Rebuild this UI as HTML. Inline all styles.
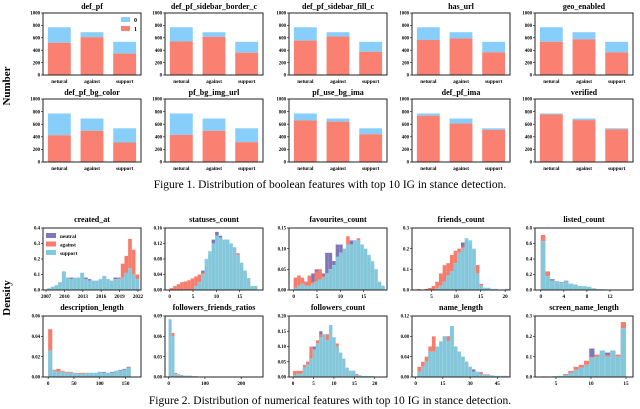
<!DOCTYPE html>
<html><head><meta charset="utf-8"><style>
html,body{margin:0;padding:0;background:#fff}
svg{display:block;font-family:"Liberation Serif",serif}
</style></head><body>
<svg id="c" width="640" height="409" viewBox="0 0 640 409" xmlns="http://www.w3.org/2000/svg">
<text x="10" y="86" font-size="11" font-weight="bold" text-anchor="middle" transform="rotate(-90 10 86)">Number</text>
<text x="10" y="298" font-size="11" font-weight="bold" text-anchor="middle" transform="rotate(-90 10 298)">Density</text>
<text x="330" y="188" font-size="11.5" text-anchor="middle">Figure 1. Distribution of boolean features with top 10 IG in stance detection.</text>
<text x="330" y="404" font-size="11.5" text-anchor="middle">Figure 2. Distribution of numerical features with top 10 IG in stance detection.</text>
</svg>
<script>
const barTitles=["def_pf","def_pf_sidebar_border_c","def_pf_sidebar_fill_c","has_url","geo_enabled","def_pf_bg_color","pf_bg_img_url","pf_use_bg_ima","def_pf_ima","verified"];
const barCategories=["netural","against","support"];
const barTotals=[770,690,535];
const barOnes=[[520,610,345],[540,615,360],[555,620,375],[565,590,365],[535,575,365],[425,495,310],[430,495,315],[660,640,440],[735,610,510],[755,665,520]];
const barYTicks=[0,200,400,600,800,1000];

const histTitles=["created_at","statuses_count","favourites_count","friends_count","listed_count","description_length","followers_friends_ratios","followers_count","name_length","screen_name_length"];
const histXDomain=[[2006.5,2022.5],[-1,20],[-1,20],[1,21],[-1,16],[-10,180],[-10,260],[-1,23],[-2,52],[2,16]];
const histXTicks=[[2007,2010,2013,2016,2019,2022],[0,5,10,15],[0,5,10,15],[5,10,15,20],[0,4,8,12],[0,50,100,150],[0,100,200],[0,5,10,15,20],[0,15,30,45],[5,10,15]];
const histYTicks=[[0,0.1,0.2,0.3,0.4],[0,0.04,0.08,0.12,0.16],[0,0.05,0.10,0.15],[0,0.1,0.2,0.3],[0,0.2,0.4,0.6,0.8],[0,0.02,0.04,0.06],[0,0.03,0.06,0.09],[0,0.05,0.10,0.15,0.20],[0,0.04,0.08,0.12],[0,0.1,0.2,0.3]];
const histYLabels=[["0.0","0.1","0.2","0.3","0.4"],["0.00","0.04","0.08","0.12","0.16"],["0.00","0.05","0.10","0.15"],["0.0","0.1","0.2","0.3"],["0.0","0.2","0.4","0.6","0.8"],["0.00","0.02","0.04","0.06"],["0.00","0.03","0.06","0.09"],["0.00","0.05","0.10","0.15","0.20"],["0.00","0.04","0.08","0.12"],["0.0","0.1","0.2","0.3"]];
const histBinStart=[2007.2,0,0,2,0,0,0,0,1,3];
const histBinWidth=[0.6,0.75,0.75,0.75,0.8,8,8,0.8,2,0.75];
const neutralVals=[
[0.01,0.02,0.03,0.05,0.11,0.08,0.08,0.08,0.08,0.11,0.08,0.07,0.06,0.06,0.07,0.09,0.07,0.06,0.08,0.08,0.08,0.14,0.10,0.08,0.02],
[0,0,0,0,0,0,0,0.01,0.03,0.05,0.06,0.09,0.13,0.15,0.14,0.13,0.13,0.12,0.10,0.09,0.07,0.05,0.03,0.01,0.01,0],
[0.01,0.01,0.02,0.02,0.03,0.04,0.05,0.05,0.04,0.09,0.09,0.07,0.11,0.11,0.10,0.11,0.12,0.12,0.10,0.10,0.08,0.06,0.04,0.02,0.01,0],
[0,0,0,0,0.005,0.01,0.03,0.06,0.08,0.11,0.14,0.19,0.23,0.24,0.22,0.19,0.12,0.02,0.01,0.005,0,0,0,0,0,0],
[0.65,0.19,0.14,0.11,0.10,0.12,0.08,0.06,0.05,0.04,0.03,0.02,0.01,0.005,0,0,0,0],
[0.027,0.007,0.006,0.005,0.005,0.004,0.004,0.004,0.004,0.004,0.004,0.004,0.005,0.005,0.004,0.005,0.006,0.007,0.008,0.010,0],
[0.085,0.06,0.005,0.003,0.003,0.002,0.002,0.002,0.001,0.001,0,0,0,0,0,0],
[0.005,0.01,0.02,0.03,0.05,0.08,0.10,0.12,0.15,0.14,0.12,0.17,0.13,0.10,0.08,0.06,0.03,0.02,0.02,0.005,0.005,0.003,0.003,0.003,0.002,0],
[0.01,0.02,0.03,0.05,0.06,0.06,0.07,0.08,0.08,0.10,0.06,0.05,0.04,0.03,0.02,0.015,0.01,0.005,0.005,0.003,0.003,0.002,0.002,0.002,0.002],
[0.002,0.002,0.003,0.005,0.01,0.02,0.035,0.045,0.07,0.14,0.10,0.13,0.12,0.13,0.10,0.24]];
const againstVals=[
[0.01,0.01,0.02,0.04,0.10,0.07,0.07,0.07,0.07,0.10,0.06,0.06,0.06,0.05,0.06,0.08,0.06,0.05,0.07,0.08,0.17,0.22,0.33,0.26,0.10],
[0.005,0.01,0.015,0.02,0.022,0.025,0.03,0.035,0.04,0.045,0.05,0.09,0.12,0.13,0.135,0.13,0.125,0.115,0.11,0.095,0.07,0.05,0.03,0.01,0.005,0],
[0.03,0.035,0.03,0.02,0.035,0.02,0.045,0.05,0.035,0.04,0.05,0.06,0.08,0.09,0.10,0.13,0.11,0.12,0.125,0.11,0.10,0.08,0.06,0.05,0.02,0.01],
[0.005,0,0.005,0.01,0.02,0.04,0.08,0.12,0.13,0.17,0.19,0.20,0.21,0.22,0.22,0.19,0.12,0.03,0.01,0.01,0,0,0,0,0,0],
[0.71,0.24,0.12,0.10,0.08,0.10,0.08,0.06,0.05,0.04,0.03,0.02,0.01,0.005,0,0,0,0],
[0.047,0.007,0.008,0.006,0.005,0.005,0.004,0.004,0.004,0.004,0.004,0.004,0.005,0.004,0.004,0.004,0.006,0.006,0.007,0.009,0],
[0.07,0.065,0.006,0.004,0.003,0.002,0.002,0.002,0.001,0.001,0,0,0,0,0,0],
[0.02,0.02,0.02,0.04,0.05,0.10,0.09,0.12,0.14,0.13,0.14,0.15,0.12,0.11,0.08,0.06,0.03,0.02,0.02,0.01,0.005,0.003,0.003,0.002,0.002,0],
[0.02,0.03,0.04,0.06,0.08,0.06,0.05,0.07,0.08,0.07,0.06,0.05,0.04,0.03,0.02,0.01,0.01,0.01,0.005,0.005,0.003,0.002,0.002,0.002,0.002],
[0.003,0.002,0.003,0.005,0.015,0.03,0.05,0.06,0.08,0.10,0.11,0.12,0.11,0.12,0.11,0.27]];
const supportVals=[
[0.01,0.02,0.03,0.05,0.12,0.08,0.07,0.08,0.08,0.11,0.07,0.06,0.06,0.06,0.07,0.09,0.07,0.06,0.07,0.07,0.08,0.11,0.14,0.10,0.07],
[0,0,0,0,0,0,0,0.01,0.02,0.04,0.08,0.10,0.12,0.14,0.135,0.13,0.13,0.12,0.11,0.09,0.07,0.05,0.03,0.01,0.01,0],
[0.005,0.01,0.015,0.01,0.01,0.015,0.02,0.025,0.03,0.04,0.05,0.06,0.08,0.09,0.10,0.11,0.11,0.12,0.12,0.11,0.10,0.085,0.07,0.05,0.02,0.01],
[0,0,0,0,0,0.01,0.02,0.04,0.07,0.09,0.13,0.18,0.20,0.25,0.24,0.20,0.08,0.02,0.01,0.01,0.005,0.005,0,0,0.005,0],
[0.63,0.18,0.12,0.10,0.09,0.11,0.08,0.07,0.05,0.05,0.04,0.02,0.01,0.01,0.005,0,0,0],
[0.026,0.006,0.005,0.005,0.004,0.004,0.004,0.003,0.003,0.004,0.004,0.004,0.005,0.004,0.004,0.004,0.006,0.006,0.007,0.009,0],
[0.085,0.06,0.004,0.003,0.002,0.002,0.002,0.002,0.001,0.001,0,0,0,0,0,0],
[0.005,0.01,0.01,0.03,0.04,0.06,0.09,0.11,0.13,0.14,0.12,0.17,0.13,0.10,0.08,0.06,0.03,0.02,0.02,0.005,0.005,0.003,0.003,0.003,0.002,0],
[0.01,0.02,0.03,0.05,0.05,0.06,0.07,0.08,0.07,0.10,0.06,0.05,0.04,0.03,0.02,0.01,0.01,0.005,0.005,0.003,0.003,0.002,0.002,0.002,0.002],
[0.002,0.002,0.003,0.005,0.01,0.02,0.035,0.045,0.06,0.095,0.10,0.13,0.10,0.13,0.10,0.24]];

const NS="http://www.w3.org/2000/svg";
const svg=document.getElementById('c');
function mk(tag,attrs,parent){const e=document.createElementNS(NS,tag);for(const k in attrs)e.setAttribute(k,attrs[k]);(parent||svg).appendChild(e);return e;}
function txt(s,attrs,parent){const e=mk('text',attrs,parent);e.textContent=s;return e;}

const colLefts=[43,165,289,412,535];
const plotW=98;
const barRows=[[13,75],[99,162]];
const histRows=[[228,290],[316,377]];

barTitles.forEach((title,p)=>{
  const L=colLefts[p%5],T=barRows[Math.floor(p/5)][0],B=barRows[Math.floor(p/5)][1];
  const g=mk('g',{});
  
  
  const y=v=>B-(v/1000)*(B-T);
  const bw=plotW/3;
  barCategories.forEach((c,i)=>{
    const x0=L+bw*i+bw*0.15,w=bw*0.7;
    const r1=mk('rect',{x:x0,y:y(barTotals[i]),width:w,height:y(barOnes[p][i])-y(barTotals[i]),fill:'#87cefa'},g);
    
    
    const r2=mk('rect',{x:x0,y:y(barOnes[p][i]),width:w,height:B-y(barOnes[p][i]),fill:'#fa8072'},g);
    
    
    const t=txt(c,{x:L+bw*i+bw/2,y:B+8,'font-size':5.2,'font-weight':'bold','text-anchor':'middle'},g);
    
    
  });
  barYTicks.forEach(v=>{
    mk('line',{x1:L-2,x2:L,y1:y(v),y2:y(v),stroke:'#000','stroke-width':0.6},g);
    const t=txt(String(v),{x:L-3,y:y(v)+1.7,'font-size':4.8,'font-weight':'bold','text-anchor':'end'},g);
    
    
  });
  mk('rect',{x:L,y:T,width:plotW,height:B-T,fill:'none',stroke:'#222','stroke-width':1},g);
  const tt=txt(title,{x:L+plotW/2,y:T-4,'font-size':8,'font-weight':'bold','text-anchor':'middle'},g);
  
  
  if(p===0){
    const lg=mk('g',{},g);
    
    
    mk('rect',{x:L+78,y:T+4,width:9,height:5,fill:'#87cefa'},lg);
    txt('0',{x:L+91,y:T+9,'font-size':6,'font-weight':'bold'},lg);
    mk('rect',{x:L+78,y:T+13,width:9,height:5,fill:'#fa8072'},lg);
    txt('1',{x:L+91,y:T+18,'font-size':6,'font-weight':'bold'},lg);
  }
});

const seriesColors=['#7f77b8','#f67c6c','#7ecbe0'];
const seriesNames=['neutral','against','support'];
histTitles.forEach((title,p)=>{
  const L=colLefts[p%5],T=histRows[Math.floor(p/5)][0],B=histRows[Math.floor(p/5)][1];
  const g=mk('g',{});
  
  
  const [x0,x1]=histXDomain[p];const yt=histYTicks[p];const ymax=yt[yt.length-1];
  const x=v=>L+(v-x0)/(x1-x0)*plotW;
  const y=v=>B-(v/ymax)*(B-T);
  [neutralVals,againstVals,supportVals].forEach((arr,s)=>{
    arr[p].forEach((v,i)=>{
      if(v<=0)return;
      const a=histBinStart[p]+i*histBinWidth[p];
      const r=mk('rect',{x:x(a),y:y(Math.min(v,ymax)),width:x(a+histBinWidth[p])-x(a),height:B-y(Math.min(v,ymax)),fill:seriesColors[s],'fill-opacity':s===2?0.95:1,stroke:s===2?'#a9dcec':'none','stroke-width':0.3},g);
      
      
    });
  });
  histXTicks[p].forEach(v=>{
    mk('line',{x1:x(v),x2:x(v),y1:B,y2:B+2,stroke:'#000','stroke-width':0.6},g);
    const t=txt(String(v),{x:x(v),y:B+8,'font-size':5.2,'font-weight':'bold','text-anchor':'middle'},g);
    
    
  });
  yt.forEach((v,i)=>{
    mk('line',{x1:L-2,x2:L,y1:y(v),y2:y(v),stroke:'#000','stroke-width':0.6},g);
    const t=txt(histYLabels[p][i],{x:L-3,y:y(v)+1.7,'font-size':4.8,'font-weight':'bold','text-anchor':'end'},g);
    
    
  });
  mk('rect',{x:L,y:T,width:plotW,height:B-T,fill:'none',stroke:'#222','stroke-width':1},g);
  const tt=txt(title,{x:L+plotW/2,y:T-6,'font-size':8,'font-weight':'bold','text-anchor':'middle'},g);
  
  
  if(p===0){
    const lg=mk('g',{},g);
    
    
    seriesNames.forEach((n,s)=>{
      mk('rect',{x:L+3,y:T+5+s*8.5,width:10,height:5,fill:seriesColors[s]},lg);
      txt(n,{x:L+17,y:T+10+s*8.5,'font-size':5.2,'font-weight':'bold'},lg);
    });
  }
});
</script>
</body></html>
